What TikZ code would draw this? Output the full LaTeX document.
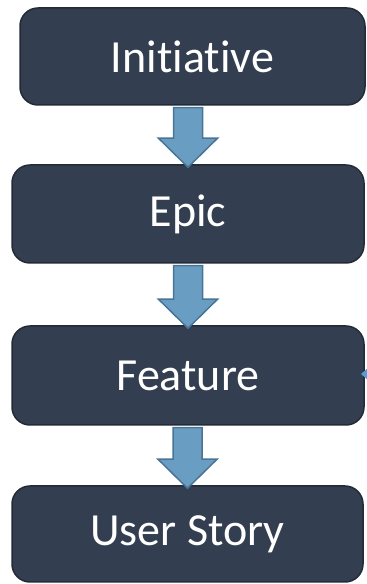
\documentclass[tikz,border=0pt]{standalone}
\usepackage{fontspec}
\setmainfont[RawFeature={-liga;-clig;-dlig}]{Carlito}
\usetikzlibrary{calc}

\definecolor{boxfill}{HTML}{333F50}
\definecolor{boxline}{HTML}{232B37}
\definecolor{arrowfill}{HTML}{6A9DC2}
\definecolor{arrowline}{HTML}{4A7496}
\definecolor{tipblue}{HTML}{5B9BD5}

\begin{document}
\begin{tikzpicture}[x=1pt,y=1pt]

	% style of the levels
	\tikzstyle{level}=[rectangle,rounded corners=18pt,fill=boxfill,draw=boxline,line width=1.5pt,
		text=white,inner sep=0pt,minimum height=97pt,font=\fontsize{46}{50}\selectfont]
	\tikzstyle{downarrow}=[fill=arrowfill,draw=arrowline,line width=1.5pt,line join=miter]

	\useasboundingbox (0,0) rectangle (367,584);

	\node [level,minimum width=345pt] (init) at (192.5,527.5) {Initiative};
	\node [level,minimum width=352pt,minimum height=98pt] (epic) at (188,370) {Epic};
	\node [level,minimum width=352pt,minimum height=99pt] (feat) at (188,208.5) {Feature};
	\node [level,minimum width=351pt,minimum height=96pt] (story) at (187.5,50) {User Story};

	% block arrows between the levels
	\foreach \a/\b in {init/epic,epic/feat,feat/story}{
		\coordinate (tip) at ($(\b.north)+(0,-3)$);
		\coordinate (top) at ($(\b.north |- \a.south)+(0,-2)$);
		\draw [downarrow] ($(top)+(-14.5,0)$) -- ($(top)+(14.5,0)$) -- ($(tip)+(14.5,29)$)
			-- ($(tip)+(29.5,29)$) -- (tip) -- ($(tip)+(-29.5,29)$) -- ($(tip)+(-14.5,29)$) -- cycle;
	}

	% tip of an arrow coming in from the right
	\fill [tipblue] (361,210) -- (369,217) -- (369,203) -- cycle;

\end{tikzpicture}
\end{document}
